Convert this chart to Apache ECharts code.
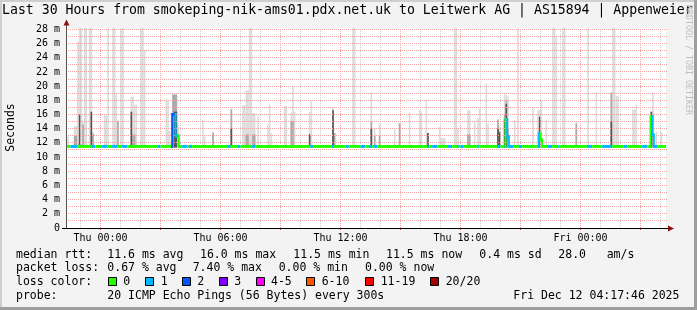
<!DOCTYPE html>
<html><head><meta charset="utf-8">
<script src="https://cdn.jsdelivr.net/npm/echarts@6/dist/echarts.min.js"></script>
<style>html,body{margin:0;padding:0;background:#f3f3f3}#c{width:697px;height:310px}</style>
</head><body><div id="c"></div>
<script>
// ---------- data (time in minutes relative to Thu 00:00, rtt in ms) ----------
const TITLE = 'Last 30 Hours from smokeping-nik-ams01.pdx.net.uk to Leitwerk AG | AS15894 | Appenweier';
const X_MIN = -103.5, X_MAX = 1696.5;
const Y_MAX = 28.2;
const STEP = 5;
const xLabelMinutes = [0, 360, 720, 1080, 1440];
const xLabelText = ['Thu 00:00', 'Thu 06:00', 'Thu 12:00', 'Thu 18:00', 'Fri 00:00'];
const yLabelValues = [0, 2, 4, 6, 8, 10, 12, 14, 16, 18, 20, 22, 24, 26, 28];
const smokeBase = 11.35;

// smoke spikes: start minute, number of 5-min steps, outer (max) top, mid band top, dense core top
const smokeStart = [-100,-80,-70,-70,-65,-65,-55,-50,-35,-30,-25,10,20,35,40,50,60,90,95,100,105,120,130,195,200,200,215,220,230,305,310,335,390,425,435,445,455,470,500,505,510,550,570,575,580,625,630,695,700,755,810,820,835,880,895,925,955,960,975,980,1015,1020,1060,1070,1100,1120,1130,1135,1155,1160,1190,1195,1210,1215,1220,1240,1250,1295,1310,1315,1320,1335,1355,1365,1385,1425,1460,1485,1530,1535,1545,1595,1605,1650,1655,1665,1680];
const smokeSteps = [1,2,1,2,2,1,1,2,2,1,1,2,1,2,2,1,2,1,1,1,1,2,1,1,2,1,3,2,1,1,1,1,1,2,2,2,2,1,1,1,1,2,1,1,1,1,1,1,1,2,1,1,1,1,1,1,1,1,1,1,1,3,2,1,2,1,1,1,1,1,1,1,1,1,1,1,1,1,1,1,1,1,2,1,2,1,1,1,1,2,2,2,1,1,1,1,1];
const smokeMax = [12.9,14.4,19.5,26.3,30,null,15.0,30,30,null,13.5,15.9,30,30,18.8,15.2,30,18.5,18.5,17.4,17.4,30,25.1,18.1,13.7,18.0,18.9,null,14.6,15.3,12.9,13.6,16.9,17.3,19.4,30,16.2,15.8,14.6,17.4,13.4,17.2,16.3,20.0,16.4,16.4,17.9,17.0,null,30,19.1,14.1,14.8,13.9,14.8,16.3,16.6,16.3,18.1,13.4,14.3,12.7,30,14.1,16.6,15.1,15.5,16.9,20.4,14.7,15.3,14.3,18.8,18.8,18.5,15.2,30,17.0,16.6,16.6,17.9,15.2,30,27.0,30,15.0,30,19.1,19.1,30,18.6,16.7,17.4,16.4,19.1,13.6,13.6];
const smokeMid = [null,13.0,null,null,null,null,14.6,null,null,null,13.3,null,null,null,null,15.0,null,null,13.2,13.2,null,null,null,null,null,null,18.8,null,null,null,null,13.4,16.7,null,13.2,null,13.2,null,null,null,null,null,15.1,15.1,null,null,null,13.4,13.4,null,15.0,13.0,13.0,null,14.8,null,null,null,null,null,null,null,null,null,13.2,null,null,null,null,null,15.3,null,16.0,18.0,14.0,null,null,null,null,null,null,null,null,null,null,14.7,null,null,19.1,null,null,null,null,null,16.0,null,null];
const smokeDark = [null,null,null,null,null,16.0,null,null,null,16.4,null,null,null,null,null,null,null,16.4,null,null,null,null,null,null,null,null,null,16.4,null,null,null,null,14.0,null,null,null,null,null,null,null,null,null,null,null,null,13.2,null,16.6,null,null,14.0,null,null,null,null,null,null,null,null,13.4,null,null,null,null,null,null,null,null,null,null,14.0,13.5,15.3,17.5,null,null,null,null,null,15.7,null,null,null,null,null,null,null,null,15.0,null,null,null,null,16.4,null,null,null];

// median rtt runs: start minute, median (ms), lost pings (of 20)
const medStart = [-103.5,-90,-70,-25,-15,5,20,35,50,65,80,170,180,215,225,235,245,260,265,275,380,390,410,420,455,465,630,640,695,700,735,745,780,795,805,815,820,830,980,985,995,1010,1040,1055,1070,1075,1080,1090,1130,1135,1190,1200,1210,1215,1220,1225,1240,1255,1265,1315,1320,1325,1340,1355,1370,1375,1460,1475,1505,1535,1570,1580,1625,1640,1650,1655,1660,1670];
const medValue = [11.5,11.5,11.5,11.5,11.5,11.5,11.5,11.5,11.5,11.5,11.5,11.5,11.5,16.0,13.0,11.5,11.5,11.5,11.5,11.5,11.5,11.5,11.5,11.5,11.5,11.5,11.5,11.5,11.5,11.5,11.5,11.5,11.5,11.5,11.5,11.5,11.5,11.5,11.5,11.5,11.5,11.5,11.5,11.5,11.5,11.5,11.5,11.5,11.5,11.5,11.5,11.5,11.5,15.3,12.9,11.5,11.5,11.5,11.5,13.3,12.4,11.5,11.5,11.5,11.5,11.5,11.5,11.5,11.5,11.5,11.5,11.5,11.5,11.5,15.7,13.1,11.5,11.5];
const medLoss = [0,1,0,1,0,1,0,1,0,1,0,1,0,2,1,0,1,0,1,0,1,0,1,0,1,0,1,0,1,0,1,0,1,0,1,0,1,0,1,0,1,0,1,0,1,0,1,0,1,0,1,0,1,0,1,1,0,1,0,1,0,0,1,0,1,0,1,0,1,0,1,0,1,0,0,1,1,0];

const lossLabels = ['0', '1', '2', '3', '4-5', '6-10', '11-19', '20/20'];
const lossColors = ['#26ff00', '#00b8ff', '#0059ff', '#7e00ff', '#ff00ff', '#ff5500', '#ff0000', '#a10000'];
const rttStats = ['11.6 ms avg', '16.0 ms max', '11.5 ms min', '11.5 ms now', '0.4 ms sd', '28.0', 'am/s'];
const lossStats = ['0.67 % avg', '7.40 % max', '0.00 % min', '0.00 % now'];
const probeText = '20 ICMP Echo Pings (56 Bytes) every 300s';
const stampText = 'Fri Dec 12 04:17:46 2025';

// ---------- build ----------
const FONT = '"DejaVu Sans Mono", monospace';
function layer(arr) {
  const out = [];
  for (let i = 0; i < smokeStart.length; i++) if (arr[i] != null) out.push([smokeStart[i], smokeSteps[i], arr[i]]);
  return out;
}
function smokeSeries(arr, color) {
  return {
    type: 'custom', z: 1, clip: true, silent: true, animation: false,
    encode: { x: 0, y: 2 },
    data: layer(arr),
    renderItem(params, api) {
      const s = api.value(0), n = api.value(1), top = Math.min(api.value(2), Y_MAX);
      const a = api.coord([s, top]), b = api.coord([s + n * STEP, smokeBase]);
      return { type: 'rect', shape: { x: a[0], y: a[1], width: b[0] - a[0], height: b[1] - a[1] }, style: { fill: color } };
    }
  };
}
const medData = medStart.map((s, i) => [s, i + 1 < medStart.length ? medStart[i + 1] : X_MAX, medValue[i], medLoss[i], i > 0 ? medValue[i - 1] : medValue[i]]);

const vGrid = [];
for (let m = -60; m <= X_MAX; m += 60) vGrid.push([m, m % 180 === 0 ? 1 : 0]);
const hGrid = [];
for (let v = 1; v <= 28; v++) hGrid.push([v, 1]);

const PINK = '#f4a3a3', GRAY = '#cdcdcd';

const graphic = [
  { type: 'rect', shape: { x: 0, y: 0, width: 697, height: 2 }, style: { fill: '#cfcfcf' } },
  { type: 'rect', shape: { x: 0, y: 0, width: 2, height: 310 }, style: { fill: '#cfcfcf' } },
  { type: 'rect', shape: { x: 0, y: 307, width: 697, height: 3 }, style: { fill: '#9e9e9e' } },
  { type: 'rect', shape: { x: 694, y: 0, width: 3, height: 310 }, style: { fill: '#9e9e9e' } },
  { type: 'text', x: 2, y: 11, style: { text: TITLE, font: '13.2px ' + FONT, fill: '#000', verticalAlign: 'middle' } },
  { type: 'text', x: 688.5, y: 60, rotation: -Math.PI / 2, style: { text: 'RRDTOOL / TOBI OETIKER', font: '8.3px ' + FONT, fill: '#bdbdbd', align: 'center', verticalAlign: 'middle' } },
  { type: 'text', x: 11, y: 127.5, rotation: Math.PI / 2, style: { text: 'Seconds', font: '11.5px ' + FONT, fill: '#000', align: 'center', verticalAlign: 'middle' } },
  // axes with arrows
  { type: 'line', z: 50, shape: { x1: 66.5, y1: 228, x2: 66.5, y2: 23 }, style: { stroke: '#555', lineWidth: 1 } },
  { type: 'polygon', z: 51, shape: { points: [[63.5, 25.5], [69.5, 25.5], [66.5, 19.5]] }, style: { fill: '#8b1010' } },
  { type: 'line', z: 50, shape: { x1: 62, y1: 228.5, x2: 669, y2: 228.5 }, style: { stroke: '#000', lineWidth: 1 } },
  { type: 'polygon', z: 51, shape: { points: [[668, 225.5], [668, 231.5], [674, 228.5]] }, style: { fill: '#8b1010' } }
];
const legendFont = '11.5px ' + FONT;
function addText(x, y, t) { graphic.push({ type: 'text', x: x, y: y, style: { text: t, font: legendFont, fill: '#000', verticalAlign: 'middle' } }); }
const rows = [254.6, 268.3, 282, 295.7];
addText(16, rows[0], 'median rtt:');
[107.3, 200, 293.3, 386, 479.3, 558.3, 606.7].forEach((x, i) => addText(x, rows[0], rttStats[i]));
addText(16, rows[1], 'packet loss:');
[107.3, 192.7, 278.7, 365].forEach((x, i) => addText(x, rows[1], lossStats[i]));
addText(16, rows[2], 'loss color:');
const boxX = [108.5, 145.5, 182.5, 219.5, 256.5, 306.5, 365.5, 430.5];
const boxLabelX = [123.3, 160.7, 197.3, 234.3, 271, 321.7, 380.7, 445.7];
lossLabels.forEach((t, i) => {
  graphic.push({ type: 'rect', shape: { x: boxX[i], y: 277.5, width: 8, height: 8 }, style: { fill: lossColors[i], stroke: '#000', lineWidth: 1 } });
  addText(boxLabelX[i], rows[2], t);
});
addText(16, rows[3], 'probe:');
addText(107.3, rows[3], probeText);
addText(513.3, rows[3], stampText);

const option = {
  animation: false,
  backgroundColor: '#f3f3f3',
  grid: { left: 66, top: 28, width: 600, height: 200, show: true, backgroundColor: '#ffffff', borderWidth: 0 },
  xAxis: {
    type: 'value', min: X_MIN, max: X_MAX,
    axisLine: { show: false },
    axisTick: { show: true, customValues: [0, 180, 360, 540, 720, 900, 1080, 1260, 1440, 1620], length: 2, lineStyle: { color: '#e06060' } },
    splitLine: { show: false },
    axisLabel: {
      customValues: xLabelMinutes, margin: 5,
      formatter: v => xLabelText[xLabelMinutes.indexOf(v)] || '',
      fontFamily: 'DejaVu Sans Mono', fontSize: 10, color: '#000'
    }
  },
  yAxis: {
    type: 'value', min: 0, max: Y_MAX,
    axisLine: { show: false }, axisTick: { show: false }, splitLine: { show: false },
    axisLabel: {
      customValues: yLabelValues, margin: 6,
      formatter: v => (v === 0 ? '0' : v + ' m'),
      fontFamily: 'DejaVu Sans Mono', fontSize: 10, color: '#000'
    }
  },
  series: [
    smokeSeries(smokeMax, '#dddddd'),
    smokeSeries(smokeMid, '#aaaaaa'),
    smokeSeries(smokeDark, '#555555'),
    {
      type: 'custom', z: 2, silent: true, animation: false, data: vGrid, encode: { x: 0 },
      renderItem(params, api) {
        const m = api.value(0), major = api.value(1);
        const p = api.coord([m, 0]), q = api.coord([m, Y_MAX]);
        const x = Math.round(p[0] - 0.5) + 0.5;
        return { type: 'line', shape: { x1: x, y1: p[1], x2: x, y2: q[1] }, style: { stroke: major ? PINK : GRAY, lineWidth: 1, lineDash: [1, 1] } };
      }
    },
    {
      type: 'custom', z: 2, silent: true, animation: false, data: hGrid, encode: { y: 0 },
      renderItem(params, api) {
        const v = api.value(0);
        const p = api.coord([X_MIN, v]), q = api.coord([X_MAX, v]);
        const y = Math.round(p[1] - 0.5) + 0.5;
        return { type: 'line', shape: { x1: p[0], y1: y, x2: q[0] + 2, y2: y }, style: { stroke: PINK, lineWidth: 1, lineDash: [1, 1] } };
      }
    },
    {
      type: 'custom', z: 3, clip: true, silent: true, animation: false, data: medData, encode: { x: [0, 1], y: 2 },
      renderItem(params, api) {
        const s = api.value(0), e = api.value(1), v = api.value(2), l = api.value(3), pv = api.value(4);
        const a = api.coord([s, v]), b = api.coord([e, v]);
        const kids = [{ type: 'rect', shape: { x: a[0], y: a[1] - 1.5, width: b[0] - a[0], height: 3 }, style: { fill: lossColors[l] } }];
        if (pv !== v) {
          const c = api.coord([s, pv]);
          kids.push({ type: 'rect', shape: { x: a[0] - 1, y: Math.min(a[1], c[1]) - 1.5, width: 2, height: Math.abs(a[1] - c[1]) + 3 }, style: { fill: lossColors[l] } });
        }
        return { type: 'group', children: kids };
      }
    }
  ],
  graphic: graphic
};
const chart = echarts.init(document.getElementById('c'), null, { renderer: 'canvas' });
chart.setOption(option);
</script>
</body></html>
